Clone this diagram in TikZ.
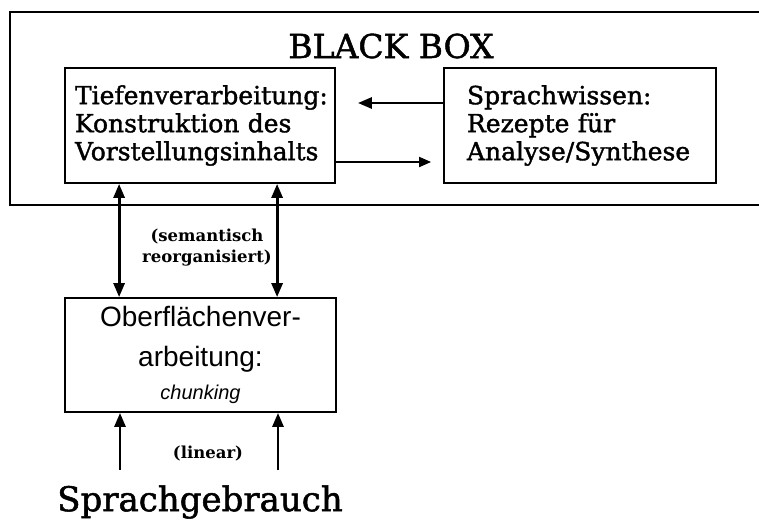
\documentclass[tikz,border=0pt]{standalone}
\usepackage{fontspec}
\usetikzlibrary{arrows.meta}
\newfontfamily\dvserif{DejaVu Serif}
\newfontfamily\dvheavy[FakeBold=1.5]{DejaVu Serif}
\newfontfamily\lsans{Liberation Sans}
\begin{document}
\begin{tikzpicture}[x=1pt,y=-1pt,
  frame/.style={draw, line width=1.8pt},
  procbox/.style={frame, rectangle, minimum height=115pt, inner ysep=0pt,
    font=\dvheavy\fontsize{25}{28}\selectfont, align=left},
  flow/.style={-{Triangle[length=14pt,width=11pt]}, line width=2.8pt},
  thinflow/.style={-{Triangle[length=12pt,width=10pt]}, line width=1.8pt},
  both/.style={{Triangle[length=14pt,width=11pt]}-{Triangle[length=14pt,width=11pt]}, line width=2.8pt},
  note/.style={font=\dvserif\bfseries\fontsize{16.5}{21}\selectfont, align=center}]
  \useasboundingbox (0,0) rectangle (759,525);

  % outer frame, open on the right
  \node[frame, minimum width=790pt, minimum height=193pt, inner sep=0pt] (blackbox) at (405,108.5) {};
  \node[font=\dvheavy\fontsize{33}{36}\selectfont] (title) at (391,46) {BLACK BOX};

  % inner processing boxes
  \node[procbox, text width=250pt, inner xsep=10pt] (tief) at (200,125.5)
    {Tiefenverarbeitung:\\Konstruktion des\\Vorstellungsinhalts};
  \node[procbox, text width=226pt, inner xsep=23pt] (wissen) at (580,125.5)
    {Sprachwissen:\\Rezepte für\\Analyse/Synthese};

  % surface processing
  \node[frame, minimum width=271pt, minimum height=114pt, inner sep=0pt, align=center,
        font=\lsans\fontsize{28}{37}\selectfont] (oberfl) at (200.5,355)
    {Oberflächenver-\\[3pt]arbeitung:\\[-4pt]{\itshape\fontsize{20}{24}\selectfont chunking}};

  % language use
  \node[font=\dvheavy\fontsize{34}{40}\selectfont] (gebrauch) at (200,502) {Sprachgebrauch};

  % horizontal exchange inside the black box
  \draw[flow, shorten >=22pt] ([yshift=22.5pt]wissen.west) -- ([yshift=22.5pt]tief.east);
  \draw[thinflow, shorten >=12pt] ([yshift=-36.5pt]tief.east) -- ([yshift=-36.5pt]wissen.west);

  % vertical links between deep and surface processing
  \draw[both] ([xshift=55pt]tief.south west) -- ([xshift=55pt]oberfl.north west);
  \draw[both] ([xshift=213pt]tief.south west) -- ([xshift=213pt]oberfl.north west);
  \node[note] (sem) at (207,248) {(semantisch\\reorganisiert)};

  % input from language use
  \coordinate (in1) at (120,470);
  \coordinate (in2) at (278,470);
  \draw[flow] (in1) -- (in1 |- oberfl.south);
  \draw[flow] (in2) -- (in2 |- oberfl.south);
  \node[note] (lin) at (208,454) {(linear)};
\end{tikzpicture}
\end{document}
